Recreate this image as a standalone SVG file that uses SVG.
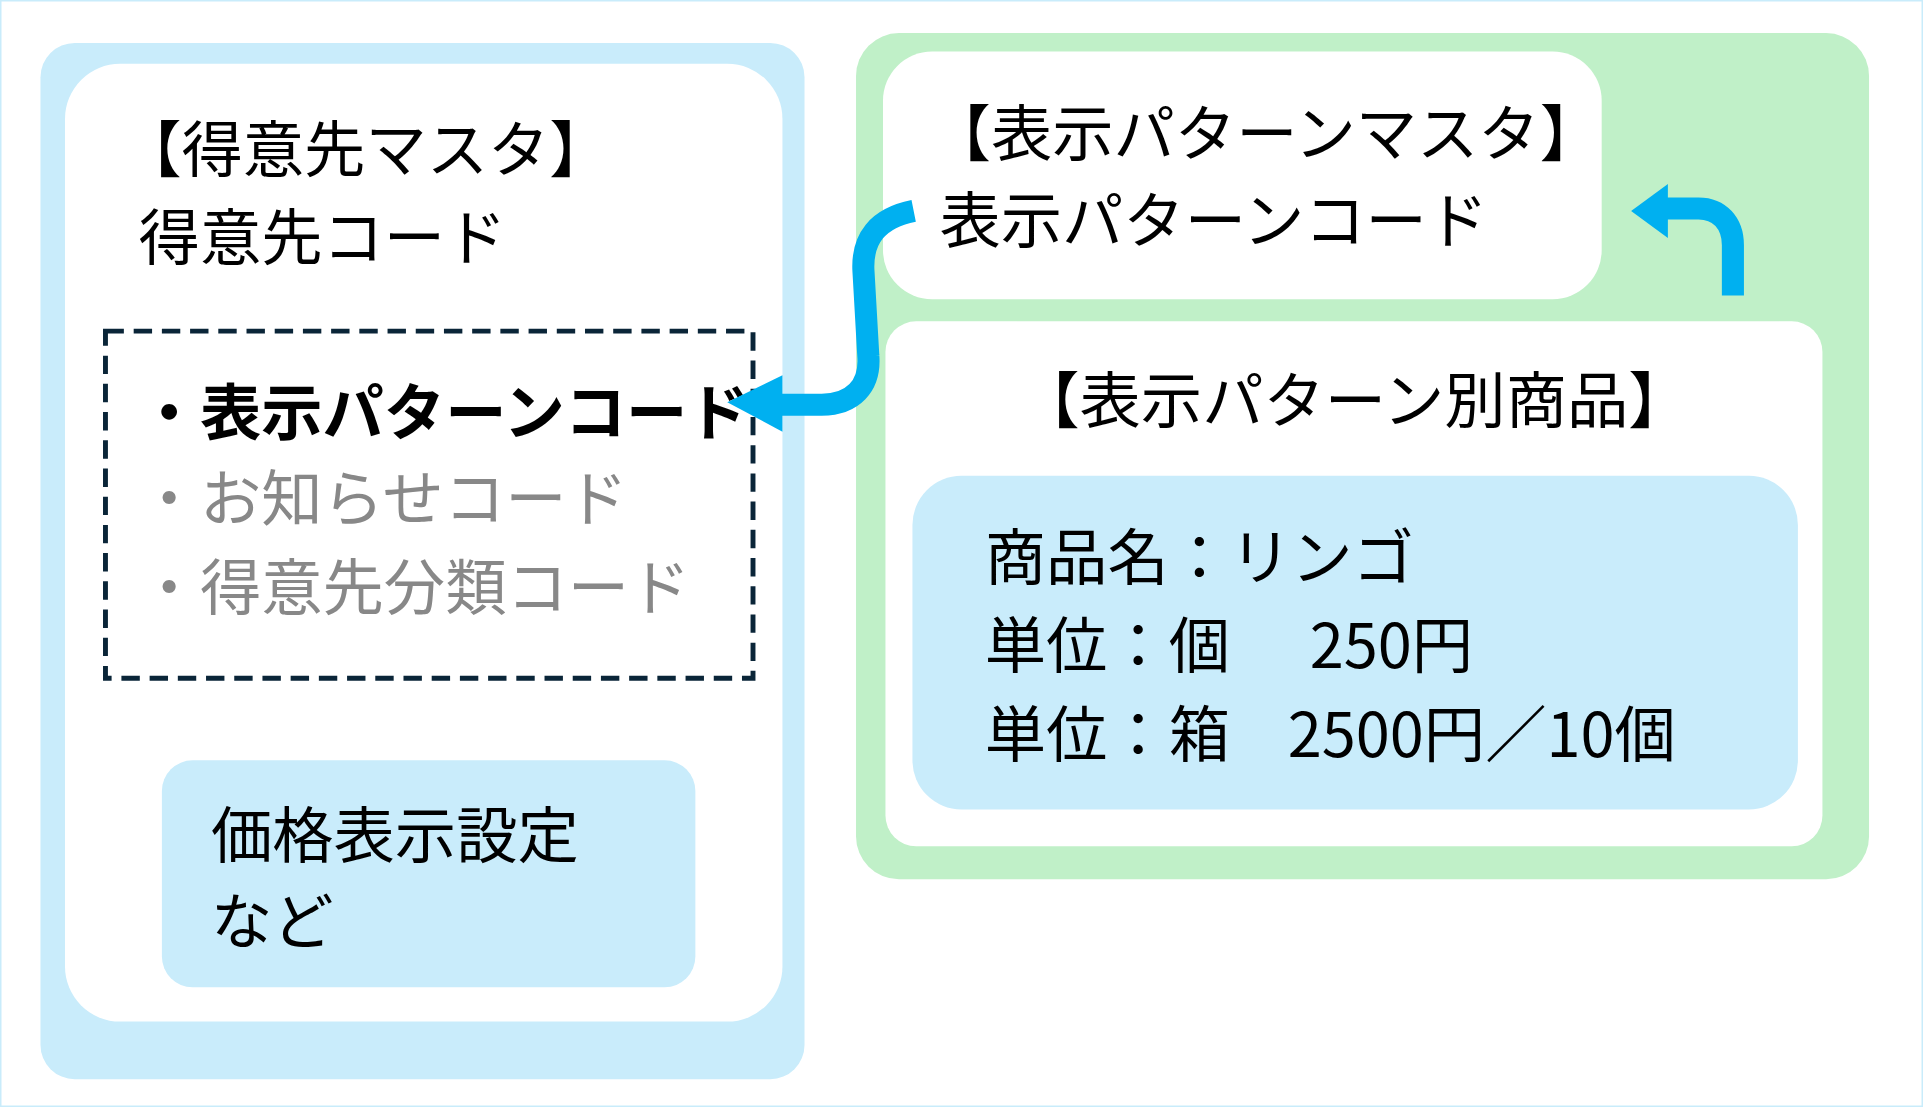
<svg xmlns="http://www.w3.org/2000/svg" width="1923" height="1107" viewBox="0 0 1923 1107">
<style>
text{font-family:"Noto Sans CJK JP","Noto Sans",sans-serif;font-size:50px;fill:#000}
.g{fill:#888}
.b{font-weight:bold}
.blue{fill:#c9ecfb}
.wh{fill:#fff}
.arr{fill:none;stroke:#00b0f0;stroke-width:18}
</style>
<rect x="0.5" y="0.5" width="1922" height="1106" fill="#fff" stroke="#c9ecfb" stroke-width="2"/>
<g transform="scale(1.2264)">
<g id="customer-master">
<rect class="blue" x="33" y="35" width="623" height="845" rx="28"/>
<rect class="wh" x="53" y="52" width="585" height="781" rx="45"/>
<text x="98" y="140">【得意先マスタ】</text>
<text x="113" y="212">得意先コード</text>
</g>
<g id="code-list">
<rect x="86" y="270" width="528" height="283" fill="none" stroke="#0a2538" stroke-width="4" stroke-dasharray="15 8"/>
<text class="b" x="113" y="355">・表示パターンコード</text>
<text class="g" x="113" y="425">・お知らせコード</text>
<text class="g" x="113" y="497">・得意先分類コード</text>
</g>
<g id="price-setting">
<rect class="blue" x="132" y="620" width="435" height="185" rx="25"/>
<text x="172" y="700">価格表示設定</text>
<text x="172" y="770">など</text>
</g>
<g id="pattern-area">
<rect x="698" y="27" width="826" height="690" rx="35" fill="#c0f0c8"/>
</g>
<g id="pattern-master">
<rect class="wh" x="720" y="42" width="586" height="202" rx="40"/>
<text x="758" y="127">【表示パターンマスタ】</text>
<text x="766" y="198">表示パターンコード</text>
</g>
<g id="pattern-products">
<rect class="wh" x="722" y="262" width="764" height="428" rx="25"/>
<text x="1104" y="345" text-anchor="middle">【表示パターン別商品】</text>
<rect class="blue" x="744" y="388" width="722" height="272" rx="40"/>
<text x="803" y="473">商品名：リンゴ</text>
<text x="803" y="545">単位：個</text>
<text x="1068" y="545">250円</text>
<text x="803" y="617">単位：箱</text>
<text x="1050" y="617">2500円／10個</text>
</g>
<g id="connectors">
<path class="arr" d="M745,172 C715,178 703,195 704,220 L708,290 C710,315 695,330 670,330 L636,330"/>
<polygon points="593,328 638,306 638,352" fill="#00b0f0"/>
<path class="arr" d="M1413,241 L1413,200 C1413,182 1402,170 1385,170 L1358,170"/>
<polygon points="1330,172 1360,150 1360,194" fill="#00b0f0"/>
</g>
</g>
</svg>
